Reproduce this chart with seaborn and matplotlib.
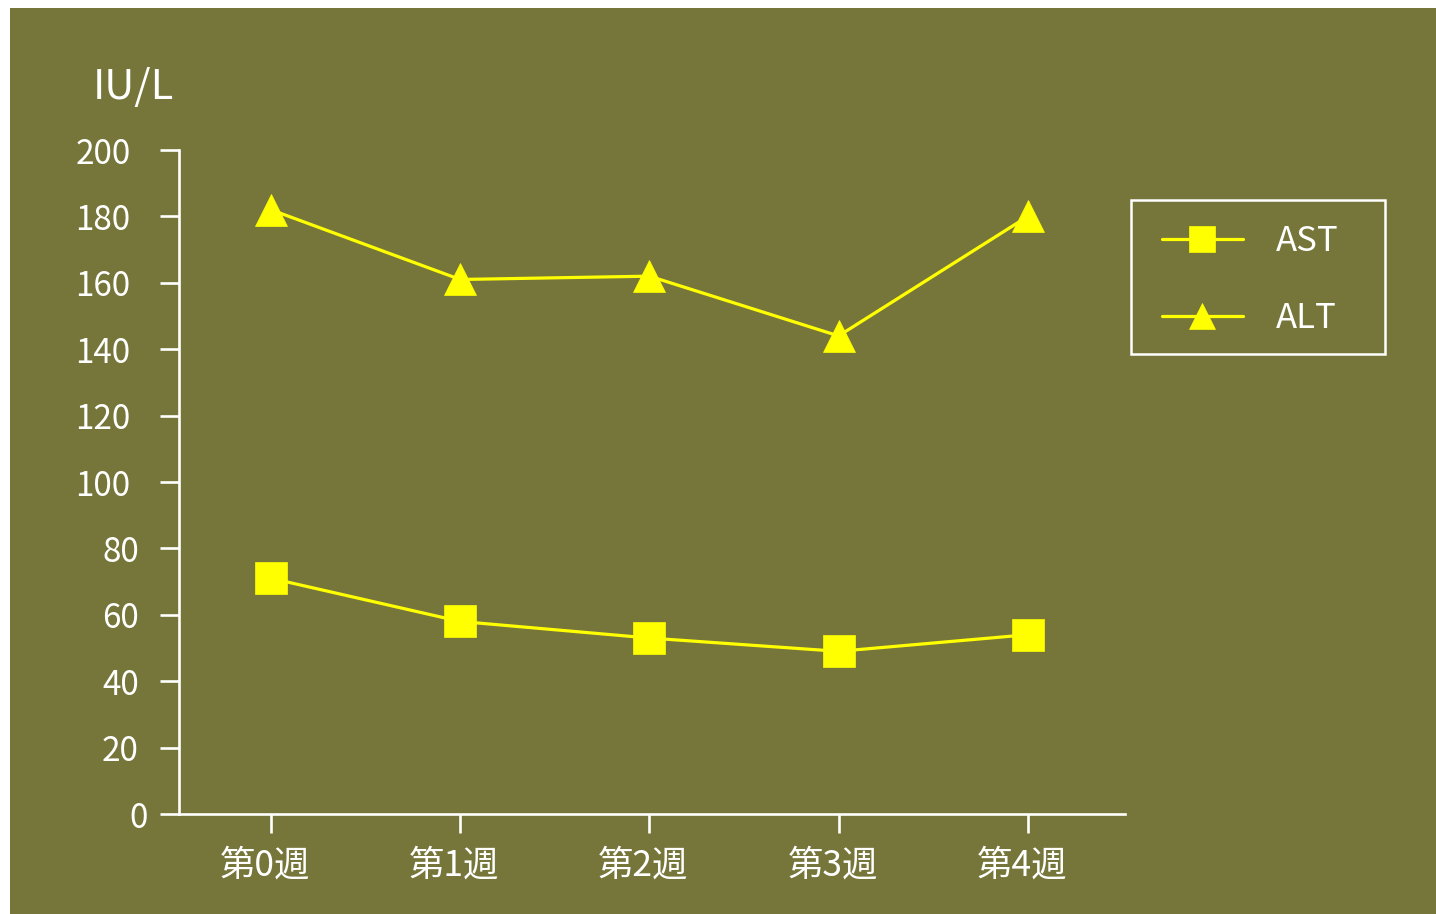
import matplotlib
matplotlib.use("Agg")
import matplotlib.pyplot as plt
import matplotlib.transforms as mtransforms
from matplotlib.patches import Rectangle
import numpy as np
import pandas as pd
import seaborn as sns

# Weekly liver enzyme levels (IU/L)
weeks = ["第0週", "第1週", "第2週", "第3週", "第4週"]
ast_values = [71, 58, 53, 49, 54]
alt_values = [182, 161, 162, 144, 180]
series_names = ["AST", "ALT"]
y_ticks = [0, 20, 40, 60, 80, 100, 120, 140, 160, 180, 200]
unit_label = "IU/L"

BG = "#76763B"
FG = "white"
LINE = "#FFFF00"

sns.set_theme(style="white")
plt.rcParams["font.family"] = ["Noto Sans CJK JP", "DejaVu Sans"]

df = pd.DataFrame({
    "week": weeks * 2,
    "value": ast_values + alt_values,
    "series": [series_names[0]] * len(weeks) + [series_names[1]] * len(weeks),
})

W, H, DPI = 1436, 914, 100
fig = plt.figure(figsize=(W / DPI, H / DPI), dpi=DPI, facecolor="white")
# olive panel with a thin white margin on the left and top
fig.patches.append(Rectangle((10 / W, 0), 1 - 10 / W, 1 - 8 / H,
                             transform=fig.transFigure, facecolor=BG,
                             edgecolor="none", zorder=-10))

ax = fig.add_axes([179 / W, 1 - 814 / H, (1125 - 179) / W, (814 - 150) / H])
ax.set_facecolor(BG)
ax.patch.set_alpha(0)

sns.lineplot(data=df, x="week", y="value", hue="series", style="series",
             markers={"AST": "s", "ALT": "^"}, dashes=False,
             palette={"AST": LINE, "ALT": LINE}, linewidth=2.3,
             markersize=23.5, markeredgecolor=LINE, markeredgewidth=0.5,
             sort=False, ax=ax)

ax.set_xlim(-0.486, 4.514)
ax.set_ylim(0, 200)
ax.set_yticks(y_ticks)
ax.set_yticklabels([str(v) for v in y_ticks])
ax.set_xlabel("")
ax.set_ylabel("")

for side in ["top", "right"]:
    ax.spines[side].set_visible(False)
for side in ["left", "bottom"]:
    ax.spines[side].set_color(FG)
    ax.spines[side].set_linewidth(1.9)

ax.tick_params(axis="both", which="major", direction="out", color=FG,
               width=1.9, length=14, labelcolor=FG, labelsize=24,
               left=True, bottom=True)
ax.tick_params(axis="y", pad=21)
ax.tick_params(axis="x", pad=10, labelsize=25.5)

# nudge shorter y labels rightwards, and x labels slightly left
for lab in ax.get_yticklabels():
    n = len(lab.get_text())
    dx = (3 - n) * 8.5 / DPI
    lab.set_transform(lab.get_transform() +
                      mtransforms.ScaledTranslation(dx, 0, fig.dpi_scale_trans))
for lab in ax.get_xticklabels():
    lab.set_transform(lab.get_transform() +
                      mtransforms.ScaledTranslation(-6 / DPI, 0, fig.dpi_scale_trans))

fig.text(93 / W, 1 - 99 / H, unit_label, color=FG, fontsize=30,
         ha="left", va="baseline")

# legend: entries without frame, plus a separate box around them
handles, labels = ax.get_legend_handles_labels()
if ax.legend_:
    ax.legend_.remove()
leg = fig.legend(handles, labels, loc="center left",
                 bbox_to_anchor=(1162 / W, 1 - 280 / H),
                 bbox_transform=fig.transFigure, borderaxespad=0,
                 frameon=False, fontsize=25,
                 markerscale=0.82, handlelength=2.33, handletextpad=0.95,
                 labelspacing=1.2, borderpad=0)
for t in leg.get_texts():
    t.set_color(FG)
fig.patches.append(Rectangle((1131 / W, 1 - 354 / H), (1385 - 1131) / W,
                             (354 - 200) / H, transform=fig.transFigure,
                             facecolor="none", edgecolor=FG, linewidth=1.8,
                             zorder=5))

fig.savefig("out.png", dpi=DPI, facecolor=fig.get_facecolor())
